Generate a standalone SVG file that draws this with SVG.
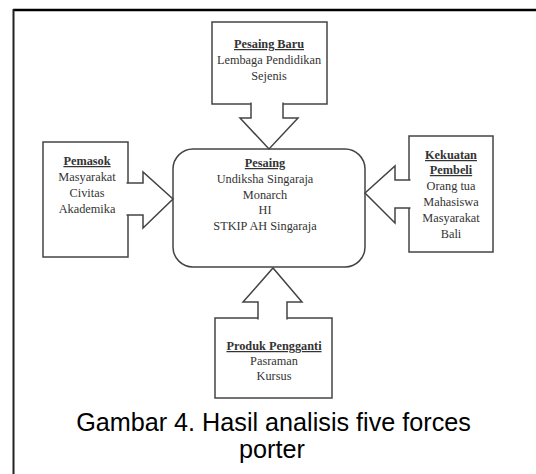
<svg xmlns="http://www.w3.org/2000/svg" width="536" height="474" viewBox="0 0 536 474">
<style>
.box{fill:#fff;stroke:#444;stroke-width:1.5}
.arr{fill:#fff;stroke:#444;stroke-width:1.5;stroke-linejoin:miter}
.t{font-family:"Liberation Serif","Times New Roman",serif;font-size:12.3px;fill:#333;text-anchor:middle}
.h{font-weight:bold;text-decoration:underline}
.cap{font-family:"Liberation Sans",Arial,sans-serif;font-size:25.2px;fill:#000;text-anchor:middle}
</style>
<rect width="536" height="474" fill="#fff"/>
<g id="frame">
<line x1="13" y1="10" x2="536" y2="10" stroke="#000" stroke-width="2.5"/>
<line x1="13.5" y1="9" x2="13.5" y2="474" stroke="#222" stroke-width="2"/>
</g>
<g id="pesaing">
<rect class="box" x="173" y="149" width="192" height="118" rx="20"/>
<text class="t" x="265"><tspan class="h" x="265" y="167">Pesaing</tspan><tspan x="265" y="183">Undiksha Singaraja</tspan><tspan x="265" y="198.5">Monarch</tspan><tspan x="265" y="214">HI</tspan><tspan x="265" y="229.5">STKIP AH Singaraja</tspan></text>
</g>
<g id="pesaing-baru">
<rect class="box" x="212" y="22" width="115" height="82"/>
<text class="t"><tspan class="h" x="269" y="48">Pesaing Baru</tspan><tspan x="269" y="64">Lembaga Pendidikan</tspan><tspan x="269" y="80">Sejenis</tspan></text>
</g>
<g id="pemasok">
<rect class="box" x="43" y="142" width="85" height="115"/>
<text class="t"><tspan class="h" x="87" y="165">Pemasok</tspan><tspan x="87" y="181">Masyarakat</tspan><tspan x="87" y="197">Civitas</tspan><tspan x="87" y="213">Akademika</tspan></text>
</g>
<g id="kekuatan-pembeli">
<rect class="box" x="409" y="136" width="84" height="116"/>
<text class="t"><tspan class="h" x="451" y="159">Kekuatan</tspan><tspan class="h" x="451" y="174">Pembeli</tspan><tspan x="451" y="190">Orang tua</tspan><tspan x="451" y="206">Mahasiswa</tspan><tspan x="451" y="222">Masyarakat</tspan><tspan x="451" y="238">Bali</tspan></text>
</g>
<g id="produk-pengganti">
<rect class="box" x="215" y="318" width="117" height="80"/>
<text class="t"><tspan class="h" x="274" y="350">Produk Pengganti</tspan><tspan x="274" y="365">Pasraman</tspan><tspan x="274" y="380">Kursus</tspan></text>
</g>
<g id="connectors">
<path class="arr" d="M251,102.5 V118 H240 L269,149 L298,118 H283 V102.5"/>
<path class="arr" d="M126.5,183 H143 V172 L173,199 L143,228 V215 H126.5"/>
<path class="arr" d="M410.5,180 H395 V166 L365,193 L395,223 V208 H410.5"/>
<path class="arr" d="M258,319.5 V302 H243 L273,268 L302,302 H287 V319.5"/>
</g>
<g id="caption">
<text class="cap" x="273.5" y="431">Gambar 4. Hasil analisis five forces</text>
<text class="cap" x="272" y="458">porter</text>
</g>
</svg>
